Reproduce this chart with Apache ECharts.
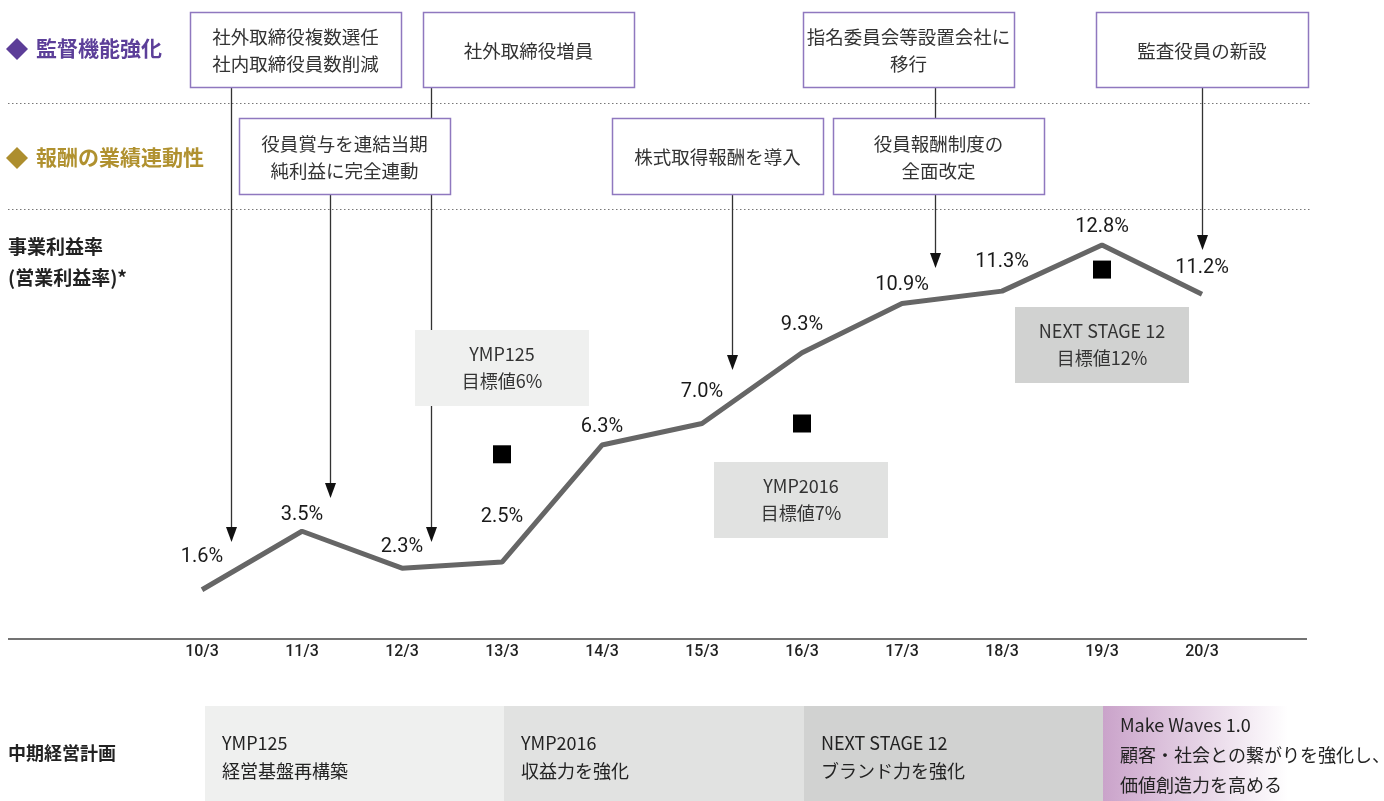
<!DOCTYPE html>
<html>
<head>
<meta charset="utf-8">
<script src="https://cdn.jsdelivr.net/npm/echarts@6/dist/echarts.min.js"></script>
<style>
  html, body { margin: 0; padding: 0; background: #fff; }
  #main { width: 1384px; height: 801px; }
</style>
</head>
<body>
<div id="main"></div>
<script>
// 決算期
var years = ['10/3', '11/3', '12/3', '13/3', '14/3', '15/3', '16/3', '17/3', '18/3', '19/3', '20/3'];
// 事業利益率（営業利益率）%
var margins = [1.6, 3.5, 2.3, 2.5, 6.3, 7.0, 9.3, 10.9, 11.3, 12.8, 11.2];
// 中期経営計画の目標値
var targetYears = ['13/3', '16/3', '19/3'];
var targetValues = [6, 7, 12];
var targetNames = ['YMP125', 'YMP2016', 'NEXT STAGE 12'];
// 中期経営計画
var planNames = ['YMP125', 'YMP2016', 'NEXT STAGE 12', 'Make Waves 1.0'];
var planThemes = ['経営基盤再構築', '収益力を強化', 'ブランド力を強化', '顧客・社会との繋がりを強化し、\n価値創造力を高める'];
// ガバナンスの取り組み
var eventTexts = ['社外取締役複数選任\n社内取締役員数削減', '役員賞与を連結当期\n純利益に完全連動', '社外取締役増員',
  '株式取得報酬を導入', '指名委員会等設置会社に\n移行', '役員報酬制度の\n全面改定', '監査役員の新設'];
var eventYears = ['10/3', '11/3', '12/3', '15/3', '17/3', '17/3', '20/3'];

// layout only
var labelLift = [22, 6, 11, 35, 8, 21, 17, 8, 19, 7, 16];
var eventBox = [[190, 12], [239, 118], [423, 12], [612, 118], [803, 12], [833, 118], [1096, 12]];
var arrowDx = [29, 28, 29, 30, 33, null, 0];
var arrowTip = [542, 498, 542, 370, 268, null, 250];
var targetBox = [[415, 330], [714, 462], [1015, 307]];
var planFill = ['#eff0ef', '#e1e2e1', '#d1d2d1'];

var jp = '"Noto Sans CJK JP", sans-serif';
var num = 'Roboto, "Noto Sans CJK JP", sans-serif';

var chart = echarts.init(document.getElementById('main'));
chart.setOption({
  animation: false,
  grid: { left: 152, right: 132, top: 208, bottom: 162 },
  xAxis: {
    type: 'category',
    data: years,
    axisLine: { show: false },
    axisTick: { show: false },
    axisLabel: { color: '#222', fontSize: 16, fontWeight: 500, fontFamily: num, margin: 5 }
  },
  yAxis: { type: 'value', min: 0, max: 14, show: false, splitLine: { show: false } },
  series: [
    {
      type: 'line',
      data: margins.map(function (v, i) {
        return { value: v, label: { distance: labelLift[i] } };
      }),
      symbol: 'circle',
      symbolSize: 1,
      itemStyle: { color: 'rgba(0,0,0,0)' },
      lineStyle: { color: '#666', width: 5 },
      label: {
        show: true, position: 'top', color: '#1a1a1a', fontSize: 20, fontFamily: num, lineHeight: 20,
        formatter: function (p) { return p.value.toFixed(1) + '%'; }
      },
      z: 5
    },
    {
      type: 'scatter',
      data: targetYears.map(function (y, i) { return [y, targetValues[i]]; }),
      symbol: 'rect',
      symbolSize: 18,
      itemStyle: { color: '#000', opacity: 1 },
      z: 6
    }
  ]
});

function txt(x, y, text, size, color, weight, align, lh) {
  return {
    type: 'text', x: x, y: y, z: 20,
    style: {
      text: text, fill: color, fontSize: size, fontFamily: jp, fontWeight: weight || 'normal',
      textAlign: align || 'left', align: align || 'left',
      textVerticalAlign: 'middle', verticalAlign: 'middle', lineHeight: lh || size + 8
    }
  };
}
function line(x1, y1, x2, y2, color, w, dash) {
  return {
    type: 'line', z: 5,
    shape: { x1: x1, y1: y1, x2: x2, y2: y2 },
    style: { stroke: color, lineWidth: w, lineDash: dash || null }
  };
}

var g = [];
// dotted separators and axis line
g.push(line(8, 103.5, 1310, 103.5, '#777', 1, [1.5, 2.5]));
g.push(line(8, 209.5, 1310, 209.5, '#777', 1, [1.5, 2.5]));
g.push(line(8, 639, 1307, 639, '#444', 1.5));

// arrows
eventYears.forEach(function (y, i) {
  if (arrowDx[i] === null) return;
  var cx = chart.convertToPixel({ xAxisIndex: 0 }, y);
  var x = Math.round(cx + arrowDx[i]) + 0.5;
  var top = eventBox[i][1] + (eventBox[i][1] < 100 ? 75 : 76);
  var tip = arrowTip[i];
  g.push(line(x, top, x, tip - 12, '#333', 1.3));
  g.push({
    type: 'polygon', z: 5,
    shape: { points: [[x - 5.5, tip - 15], [x + 5.5, tip - 15], [x, tip]] },
    style: { fill: '#111' }
  });
});

// event boxes
eventTexts.forEach(function (t, i) {
  var b = eventBox[i];
  var h = b[1] < 100 ? 75 : 76;
  var w = i === 6 ? 212 : 211;
  g.push({
    type: 'rect', z: 10,
    shape: { x: b[0] + 0.5, y: b[1] + 0.5, width: w, height: h },
    style: { fill: '#fff', stroke: '#8f78bf', lineWidth: 1.5 }
  });
  g.push(txt(b[0] + w / 2, b[1] + h / 2 + 1, t, 18.5, '#333', 'normal', 'center', 27));
});

// target boxes
targetNames.forEach(function (n, i) {
  var b = targetBox[i];
  g.push({
    type: 'rect', z: 10,
    shape: { x: b[0], y: b[1], width: 174, height: 76 },
    style: { fill: planFill[i] }
  });
  g.push(txt(b[0] + 87, b[1] + 38, n + '\n目標値' + targetValues[i] + '%', 18, '#333', 'normal', 'center', 27));
});

// left titles
g.push({ type: 'polygon', z: 10, shape: { points: [[17, 38], [28, 49], [17, 60], [6, 49]] }, style: { fill: '#5c3d98' } });
g.push(txt(36, 48, '監督機能強化', 21, '#5c3f99', 'bold'));
g.push({ type: 'polygon', z: 10, shape: { points: [[17, 147], [28, 158], [17, 169], [6, 158]] }, style: { fill: '#ad8e2e' } });
g.push(txt(36, 157, '報酬の業績連動性', 21, '#b0912f', 'bold'));
g.push(txt(8, 247, '事業利益率', 19, '#222', 'bold'));
g.push(txt(8, 278, '(営業利益率)*', 19, '#222', 'bold'));
g.push(txt(8, 753, '中期経営計画', 18, '#222', 'bold'));

// plan bands
var bandX = [205, 504, 804, 1103];
planNames.forEach(function (n, i) {
  var fill = i < 3 ? planFill[i] : new echarts.graphic.LinearGradient(0, 0, 1, 0, [
    { offset: 0, color: '#caa3ca' }, { offset: 1, color: '#ffffff' }
  ]);
  var w = i < 3 ? bandX[i + 1] - bandX[i] : 185;
  g.push({ type: 'rect', z: 1, shape: { x: bandX[i], y: 706, width: w, height: 95 }, style: { fill: fill } });
  if (i < 3) {
    g.push(txt(bandX[i] + 17, 743, n, 18, '#222'));
    g.push(txt(bandX[i] + 17, 771, planThemes[i], 18, '#222'));
  } else {
    g.push(txt(bandX[i] + 17, 725, n, 18, '#222'));
    g.push(txt(bandX[i] + 17, 770, planThemes[i], 18, '#222', 'normal', 'left', 30));
  }
});

chart.setOption({ graphic: { elements: g } });
</script>
</body>
</html>
